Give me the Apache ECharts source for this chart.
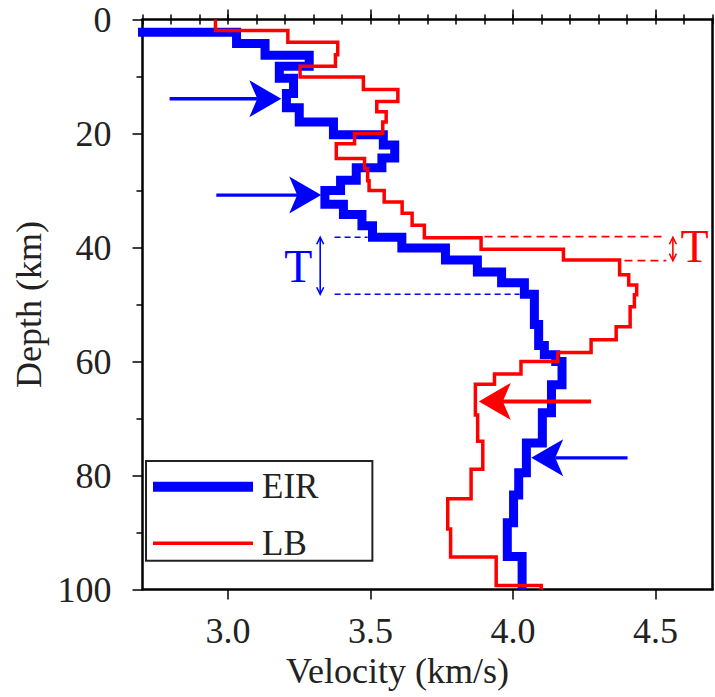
<!DOCTYPE html>
<html><head><meta charset="utf-8">
<script src="https://cdn.jsdelivr.net/npm/echarts@6/dist/echarts.min.js"></script>
<style>html,body{margin:0;padding:0;background:#fff}#c{width:715px;height:697px}</style>
</head><body><div id="c"></div>
<script>
// EIR profile: layer boundaries (depth, km) and layer velocities (km/s)
const eirBounds = [0, 2.25, 4.2, 6.25, 8.2, 10.3, 13.0, 15.5, 18.0, 20.2, 22.0, 24.3, 26.0, 28.2, 30.0, 32.4, 34.2, 36.2, 38.2, 40.1, 42.2, 44.3, 46.2, 48.2, 53.5, 57.2, 58.8, 60.0, 64.1, 69.0, 74.3, 79.5, 83.4, 88.3, 94.2, 100];
const eirVel = [2.5, 3.03, 3.13, 3.285, 3.18, 3.23, 3.205, 3.25, 3.37, 3.545, 3.585, 3.54, 3.45, 3.395, 3.34, 3.405, 3.47, 3.507, 3.61, 3.763, 3.875, 3.96, 4.04, 4.075, 4.09, 4.11, 4.15, 4.172, 4.135, 4.103, 4.047, 4.02, 4.002, 3.98, 4.032];
// LB profile
const lbBounds = [0, 1.93, 3.97, 6.2, 8.2, 10.1, 12.3, 14.4, 16.2, 18.0, 20.0, 21.8, 24.4, 26.2, 28.3, 30.0, 32.0, 34.0, 36.1, 38.3, 40.3, 42.2, 44.8, 46.6, 48.3, 50.4, 53.9, 56.2, 58.4, 60.0, 62.2, 64.0, 69.4, 74.0, 78.9, 84.1, 89.4, 94.3, 99.3, 100];
const lbVel = [2.956, 3.21, 3.385, 3.377, 3.253, 3.475, 3.596, 3.522, 3.555, 3.543, 3.444, 3.38, 3.479, 3.49, 3.495, 3.548, 3.611, 3.646, 3.689, 3.888, 4.177, 4.374, 4.406, 4.434, 4.426, 4.411, 4.362, 4.274, 4.157, 4.028, 3.935, 3.868, 3.876, 3.894, 3.853, 3.771, 3.781, 3.941, 4.099];

// Tick values
const xMajorTicks = [3.0, 3.5, 4.0, 4.5];
const xMinorTicks = [2.7, 2.8, 2.9, 3.0, 3.1, 3.2, 3.3, 3.4, 3.5, 3.6, 3.7, 3.8, 3.9, 4.0, 4.1, 4.2, 4.3, 4.4, 4.5, 4.6, 4.7];

// Annotations (velocity, depth)
const blueArrows = [[2.795, 13.9, 3.187, 13.9], [2.959, 30.8, 3.327, 30.8], [4.402, 76.9, 4.064, 76.9]];
const redArrows = [[4.274, 67.0, 3.88, 67.0]];
const blueDashes = [[3.374, 38.2, 3.49, 38.2], [3.374, 48.2, 4.023, 48.2]];
const redDashes = [[3.90, 38.1, 4.538, 38.1], [4.391, 42.3, 4.538, 42.3]];
const blueBrackets = [[3.3235, 38.2, 48.2]];
const redBrackets = [[4.561, 38.2, 42.3]];
const blueLabelPos = [[3.247, 43.4]];
const blueLabelText = ['T'];
const redLabelPos = [[4.637, 39.8]];
const redLabelText = ['T'];

const FONT = "'Liberation Serif', 'Times New Roman', serif";
const BLUE = '#0000ff', RED = '#ff0000';
const FS = 36;

function steps(bounds, vel) {
  const pts = [];
  for (let i = 0; i < vel.length; i++) {
    pts.push([vel[i], bounds[i]]);
    pts.push([vel[i], bounds[i + 1]]);
  }
  return pts;
}

function arrowItem(color, shaftW) {
  return function (params, api) {
    const p0 = api.coord([api.value(0), api.value(1)]);
    const p1 = api.coord([api.value(2), api.value(3)]);
    const dx = p1[0] - p0[0], dy = p1[1] - p0[1];
    const L = Math.hypot(dx, dy);
    const ux = dx / L, uy = dy / L, nx = -uy, ny = ux;
    const HL = 32, HW = 18.5, N = 8;
    const back = [p1[0] - ux * HL, p1[1] - uy * HL];
    const notch = [p1[0] - ux * (HL - N), p1[1] - uy * (HL - N)];
    return {
      type: 'group', children: [
        { type: 'line', shape: { x1: p0[0], y1: p0[1], x2: notch[0], y2: notch[1] }, style: { stroke: color, lineWidth: shaftW } },
        { type: 'polygon', shape: { points: [p1, [back[0] + nx * HW, back[1] + ny * HW], notch, [back[0] - nx * HW, back[1] - ny * HW]] }, style: { fill: color } }
      ]
    };
  };
}
function dashItem(color, dash) {
  return function (params, api) {
    const a = api.coord([api.value(0), api.value(1)]);
    const b = api.coord([api.value(2), api.value(3)]);
    return { type: 'line', shape: { x1: a[0], y1: a[1], x2: b[0], y2: b[1] }, style: { stroke: color, lineWidth: 1.6, lineDash: dash } };
  };
}
function bracketItem(color) {
  return function (params, api) {
    const a = api.coord([api.value(0), api.value(1)]);
    const b = api.coord([api.value(0), api.value(2)]);
    const w = 3.5, h = 7;
    const st = { stroke: color, lineWidth: 1.6, fill: 'none' };
    return {
      type: 'group', children: [
        { type: 'line', shape: { x1: a[0], y1: a[1], x2: b[0], y2: b[1] }, style: st },
        { type: 'polyline', shape: { points: [[a[0] - w, a[1] + h], [a[0], a[1]], [a[0] + w, a[1] + h]] }, style: st },
        { type: 'polyline', shape: { points: [[b[0] - w, b[1] - h], [b[0], b[1]], [b[0] + w, b[1] - h]] }, style: st }
      ]
    };
  };
}
function textItem(color, texts) {
  return function (params, api) {
    const p = api.coord([api.value(0), api.value(1)]);
    return { type: 'text', x: p[0], y: p[1], style: { text: texts[params.dataIndex], fontSize: 46, fontFamily: FONT, fill: color, align: 'center', verticalAlign: 'middle' } };
  };
}

const axisLineStyle = { color: '#000', width: 2.5 };
const tickStyle = { color: '#000', width: 1.5 };
const labelStyle = { fontSize: FS, fontFamily: FONT, color: '#222' };

const chart = echarts.init(document.getElementById('c'), null, { renderer: 'svg' });
chart.setOption({
  animation: false,
  backgroundColor: '#fff',
  grid: { left: 142.5, right: 2.5, top: 19.5, bottom: 107.5, containLabel: false },
  legend: {
    data: [{ name: 'EIR', icon: 'rect' }, { name: 'LB', icon: 'path://M0,0H100V3.6H0Z' }],
    orient: 'vertical', left: 146, top: 461,
    itemWidth: 100, itemHeight: 10, itemGap: 21.6,
    padding: [8.2, 54, 0, 7],
    borderColor: '#222', borderWidth: 2, selectedMode: false,
    textStyle: { fontSize: 35, fontFamily: FONT, color: '#222', padding: [0, 0, 0, 4] }
  },
  xAxis: [
    {
      type: 'value', position: 'bottom', min: 2.7, max: 4.7,
      axisLine: { show: true, onZero: false, lineStyle: axisLineStyle },
      axisTick: { show: true, inside: false, length: 10, customValues: xMajorTicks, lineStyle: tickStyle },
      axisLabel: Object.assign({ customValues: xMajorTicks, margin: 23, formatter: v => v.toFixed(1) }, labelStyle),
      splitLine: { show: false },
      name: 'Velocity (km/s)', nameLocation: 'middle', nameGap: 63,
      nameTextStyle: { fontSize: FS, fontFamily: FONT, color: '#222', padding: [0, 60, 0, 0] }
    },
    {
      type: 'value', position: 'bottom', min: 2.7, max: 4.7,
      axisLine: { show: false }, axisLabel: { show: false }, splitLine: { show: false },
      axisTick: { show: true, inside: false, length: 5, customValues: xMinorTicks, lineStyle: tickStyle }
    },
    {
      type: 'value', position: 'top', min: 2.7, max: 4.7,
      axisLine: { show: true, onZero: false, lineStyle: axisLineStyle },
      axisTick: { show: true, inside: false, length: 10, customValues: xMajorTicks, lineStyle: tickStyle },
      axisLabel: { show: false }, splitLine: { show: false }
    },
    {
      type: 'value', position: 'top', min: 2.7, max: 4.7,
      axisLine: { show: false }, axisLabel: { show: false }, splitLine: { show: false },
      axisTick: { show: true, inside: false, length: 5, customValues: xMinorTicks, lineStyle: tickStyle }
    }
  ],
  yAxis: [
    {
      type: 'value', inverse: true, min: 0, max: 100, interval: 20, position: 'left',
      axisLine: { show: true, onZero: false, lineStyle: axisLineStyle },
      axisTick: { show: true, inside: false, length: 10, lineStyle: tickStyle },
      minorTick: { show: true, splitNumber: 2, length: 6, lineStyle: tickStyle },
      axisLabel: Object.assign({ margin: 31 }, labelStyle),
      splitLine: { show: false },
      name: 'Depth (km)', nameLocation: 'middle', nameGap: 89, nameRotate: 90,
      nameTextStyle: { fontSize: FS, fontFamily: FONT, color: '#222' }
    },
    {
      type: 'value', inverse: true, min: 0, max: 100, position: 'right',
      axisLine: { show: true, onZero: false, lineStyle: axisLineStyle },
      axisTick: { show: false }, axisLabel: { show: false }, splitLine: { show: false }
    }
  ],
  series: [
    {
      type: 'line', name: 'EIR', data: steps(eirBounds, eirVel), symbol: 'none', showSymbol: false,
      color: BLUE, itemStyle: { color: BLUE },
      lineStyle: { color: BLUE, width: 9, join: 'miter', cap: 'butt' }, clip: true, z: 2
    },
    {
      type: 'line', name: 'LB', data: steps(lbBounds, lbVel), symbol: 'none', showSymbol: false,
      color: RED, itemStyle: { color: RED },
      lineStyle: { color: RED, width: 3.5, join: 'miter', cap: 'butt' }, clip: true, z: 3
    },
    { type: 'custom', data: blueDashes, encode: { x: [0, 2], y: [1, 3] }, renderItem: dashItem(BLUE, [6, 4]), z: 4, silent: true },
    { type: 'custom', data: redDashes, encode: { x: [0, 2], y: [1, 3] }, renderItem: dashItem(RED, [8, 5]), z: 4, silent: true },
    { type: 'custom', data: blueBrackets, encode: { x: 0, y: [1, 2] }, renderItem: bracketItem(BLUE), z: 4, silent: true },
    { type: 'custom', data: redBrackets, encode: { x: 0, y: [1, 2] }, renderItem: bracketItem(RED), z: 4, silent: true },
    { type: 'custom', data: blueLabelPos, encode: { x: 0, y: 1 }, renderItem: textItem(BLUE, blueLabelText), z: 5, silent: true },
    { type: 'custom', data: redLabelPos, encode: { x: 0, y: 1 }, renderItem: textItem(RED, redLabelText), z: 5, silent: true },
    { type: 'custom', data: blueArrows, encode: { x: [0, 2], y: [1, 3] }, renderItem: arrowItem(BLUE, 3.3), z: 5, silent: true },
    { type: 'custom', data: redArrows, encode: { x: [0, 2], y: [1, 3] }, renderItem: arrowItem(RED, 4), z: 6, silent: true }
  ]
});
</script>
</body></html>
